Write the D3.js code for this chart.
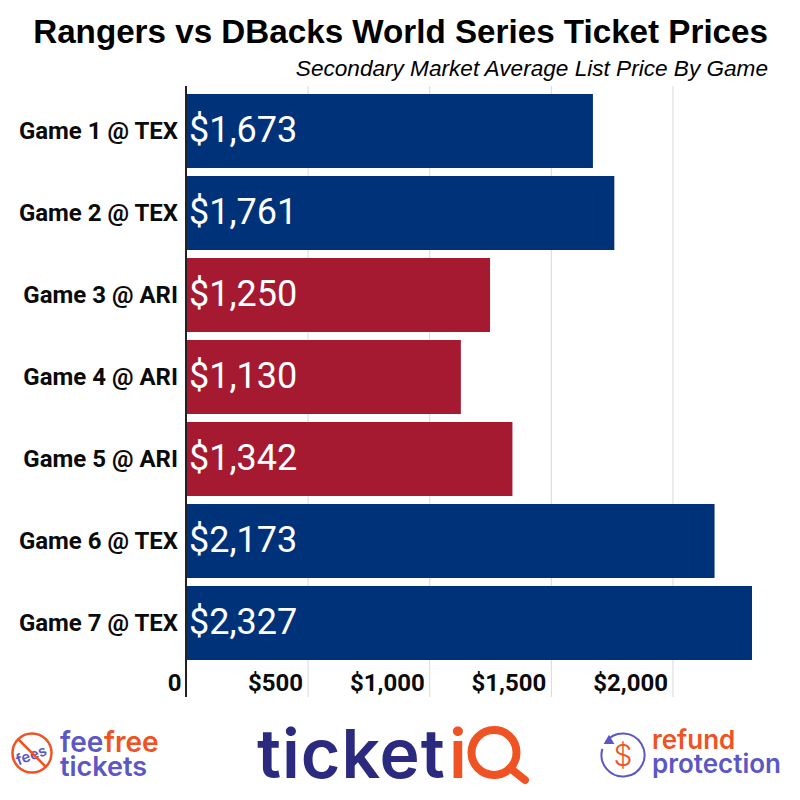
<!DOCTYPE html>
<html>
<head>
<meta charset="utf-8">
<script src="https://cdn.jsdelivr.net/npm/d3@7"></script>
<style>
  html, body { margin: 0; padding: 0; background: #fff; }
  svg { display: block; }
  .title { font: bold 33.2px "Liberation Sans", sans-serif; fill: #000; }
  .subtitle { font: italic 22.6px "Liberation Sans", sans-serif; fill: #000; }
  .game { font: bold 24px Roboto, sans-serif; fill: #0b0b0b; }
  .price { font: 36px Roboto, sans-serif; fill: #fff; }
  .tick text { font: bold 24px Roboto, sans-serif; fill: #0b0b0b; }
  .logo { font-family: Inter, sans-serif; font-weight: 600; }
</style>
</head>
<body>
<svg id="chart" width="800" height="800"></svg>
<script>
// chart data
var games = ["Game 1 @ TEX", "Game 2 @ TEX", "Game 3 @ ARI", "Game 4 @ ARI", "Game 5 @ ARI", "Game 6 @ TEX", "Game 7 @ TEX"]
var prices = [1673, 1761, 1250, 1130, 1342, 2173, 2327]
var hosts = ["TEX", "TEX", "ARI", "ARI", "ARI", "TEX", "TEX"]
var ticks = [0, 500, 1000, 1500, 2000]

var blue = "#00327a", red = "#a51931", purple = "#5b57c4", orange = "#ef5323", navy = "#2b2a7f"

var svg = d3.select("#chart")

var x = d3.scaleLinear().domain([0, 2327]).range([186, 752])
var y = d3.scaleBand().domain(games).range([90, 664]).paddingInner(8 / 82).paddingOuter(4 / 82)
var color = d3.scaleOrdinal().domain(["TEX", "ARI"]).range([blue, red])

svg.append("text").attr("class", "title")
  .attr("x", 768).attr("y", 43).attr("text-anchor", "end")
  .text("Rangers vs DBacks World Series Ticket Prices")

svg.append("text").attr("class", "subtitle")
  .attr("x", 768).attr("y", 76).attr("text-anchor", "end")
  .text("Secondary Market Average List Price By Game")

// gridlines and tick labels
var axis = d3.axisBottom(x)
  .tickValues(ticks)
  .tickSize(611)
  .tickFormat(function(d) { return d == 0 ? "0" : "$" + d3.format(",")(d) })

var gAxis = svg.append("g").attr("transform", "translate(0,86)").call(axis)
gAxis.select(".domain").remove()
gAxis.selectAll(".tick line").attr("stroke", "#d9d9d9").attr("stroke-width", 1)
gAxis.selectAll(".tick text")
  .attr("text-anchor", "end")
  .attr("x", -5)
  .attr("y", 605)
  .attr("dy", "0")

svg.selectAll("rect.bar")
  .data(games)
  .enter()
  .append("rect")
  .attr("class", "bar")
  .attr("x", x(0))
  .attr("y", function(d) { return y(d) })
  .attr("width", function(d, i) { return x(prices[i]) - x(0) })
  .attr("height", y.bandwidth())
  .attr("fill", function(d, i) { return color(hosts[i]) })

// axis line on top of the bars
svg.append("line")
  .attr("x1", x(0)).attr("x2", x(0))
  .attr("y1", 86).attr("y2", 697)
  .attr("stroke", "#222").attr("stroke-width", 2)

svg.selectAll("text.game")
  .data(games)
  .enter()
  .append("text")
  .attr("class", "game")
  .attr("x", 178)
  .attr("y", function(d) { return y(d) + y.bandwidth() / 2 + 8 })
  .attr("text-anchor", "end")
  .text(function(d) { return d })

svg.selectAll("text.price")
  .data(prices)
  .enter()
  .append("text")
  .attr("class", "price")
  .attr("x", 189)
  .attr("y", function(d, i) { return y(games[i]) + y.bandwidth() / 2 + 11 })
  .text(function(d) { return "$" + d3.format(",")(d) })

// fee free tickets logo
var fee = svg.append("g")
fee.append("circle").attr("cx", 32).attr("cy", 753).attr("r", 19.5)
  .attr("fill", "none").attr("stroke", orange).attr("stroke-width", 2.5)
fee.append("text").attr("class", "logo")
  .attr("transform", "translate(33,760) rotate(-20)")
  .attr("text-anchor", "middle").attr("font-size", 15).attr("fill", purple)
  .text("fees")
fee.append("line").attr("x1", 18).attr("y1", 739).attr("x2", 46).attr("y2", 767)
  .attr("stroke", orange).attr("stroke-width", 2.5)
fee.append("text").attr("class", "logo")
  .attr("x", 60).attr("y", 752).attr("font-size", 28).attr("fill", purple)
  .text("fee")
fee.append("text").attr("class", "logo")
  .attr("x", 104).attr("y", 752).attr("font-size", 28).attr("fill", orange)
  .text("free")
fee.append("text").attr("class", "logo")
  .attr("x", 60).attr("y", 776).attr("font-size", 27).attr("fill", purple)
  .text("tickets")

// ticketiQ logo
var tiq = svg.append("g")
tiq.append("text").attr("class", "logo")
  .attr("x", 257).attr("y", 778).attr("font-size", 68).attr("letter-spacing", 1).attr("fill", navy)
  .text("ticket")
tiq.append("text").attr("class", "logo")
  .attr("x", 449).attr("y", 778).attr("font-size", 68).attr("fill", orange)
  .text("i")
tiq.append("circle").attr("cx", 494).attr("cy", 752.5).attr("r", 22.5)
  .attr("fill", "none").attr("stroke", orange).attr("stroke-width", 8)
tiq.append("line").attr("x1", 510).attr("y1", 768).attr("x2", 525).attr("y2", 780)
  .attr("stroke", orange).attr("stroke-width", 8).attr("stroke-linecap", "round")

// refund protection logo
var ref = svg.append("g")
ref.append("path")
  .attr("d", d3.arc()({innerRadius: 21.5, outerRadius: 21.5, startAngle: -0.95, endAngle: 5.0}))
  .attr("transform", "translate(623,755)")
  .attr("fill", "none").attr("stroke", purple).attr("stroke-width", 2)
ref.append("path").attr("d", d3.symbol(d3.symbolTriangle, 50)())
  .attr("transform", "translate(609,741) rotate(-120)").attr("fill", purple)
ref.append("text")
  .attr("x", 623).attr("y", 766).attr("text-anchor", "middle")
  .attr("font-family", "Inter, sans-serif").attr("font-size", 30).attr("font-weight", 300).attr("fill", orange)
  .text("$")
ref.append("text").attr("class", "logo")
  .attr("x", 652).attr("y", 749).attr("font-size", 26).attr("fill", orange)
  .text("refund")
ref.append("text").attr("class", "logo")
  .attr("x", 652).attr("y", 773).attr("font-size", 26).attr("fill", purple)
  .text("protection")
</script>
</body>
</html>
